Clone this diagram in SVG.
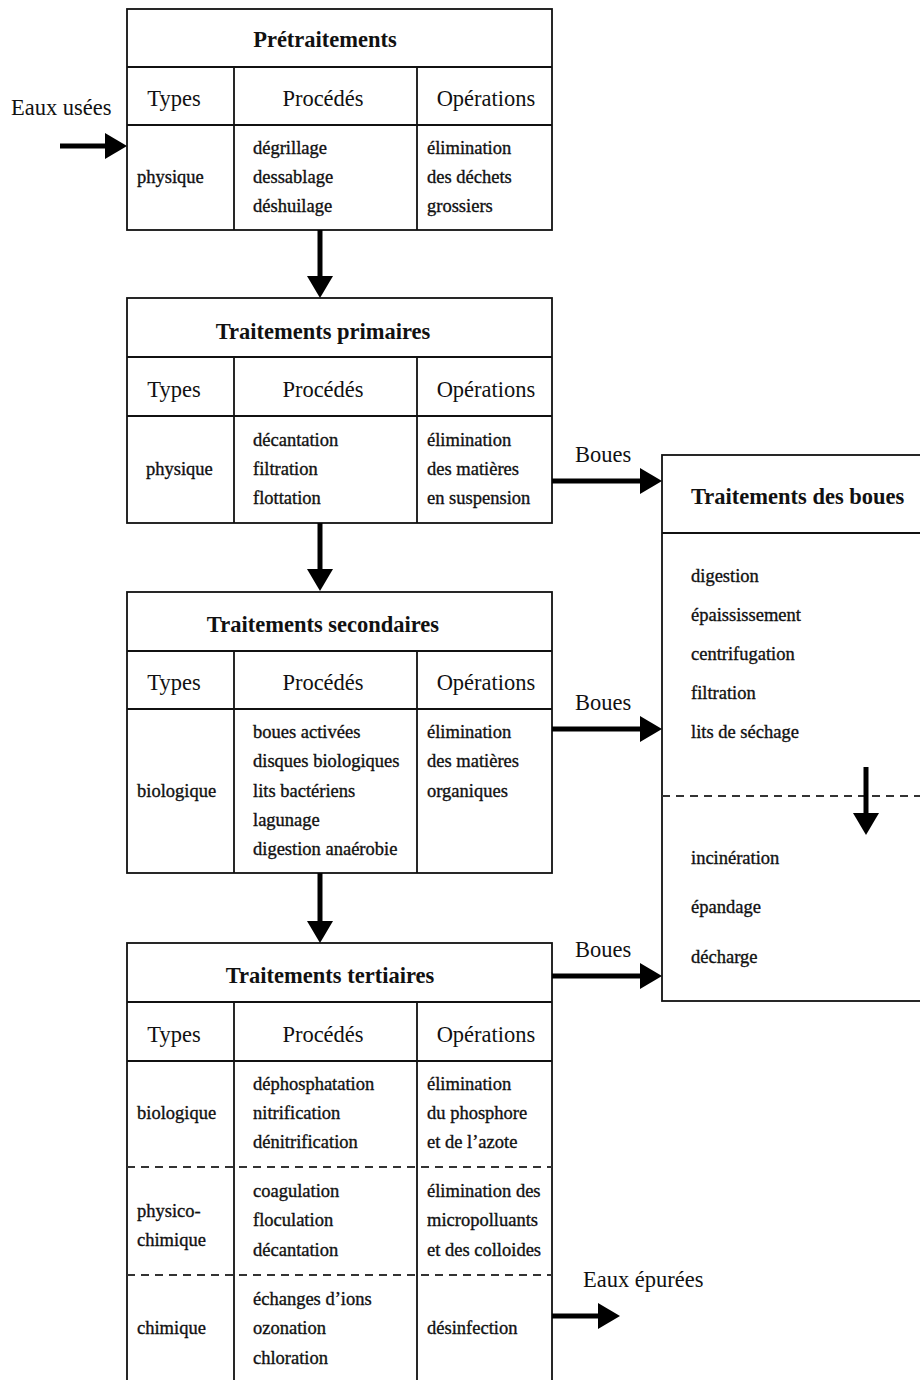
<svg xmlns="http://www.w3.org/2000/svg" width="920" height="1380" viewBox="0 0 920 1380">
<defs>
<style>
.box{fill:#fff;stroke:#111;stroke-width:1.8}
.ln{stroke:#111;stroke-width:1.8;fill:none}
.dash{stroke:#333;stroke-width:1.8;stroke-dasharray:8 6;fill:none}
.arr{stroke:#000;stroke-width:5;fill:none}
.t{font-family:"Liberation Serif","Times New Roman",serif;font-weight:bold;font-size:22.5px;fill:#111;text-anchor:middle}
.h{font-family:"Liberation Serif","Times New Roman",serif;font-size:22.5px;fill:#111;text-anchor:middle}
.b{font-family:"Liberation Serif","Times New Roman",serif;font-size:18.5px;fill:#111;stroke:#111;stroke-width:0.35}
.l{font-family:"Liberation Serif","Times New Roman",serif;font-size:22.5px;fill:#111}
</style>
<marker id="ah" markerWidth="22" markerHeight="26" refX="12" refY="13" orient="auto" markerUnits="userSpaceOnUse">
<path d="M0,0 L22,13 L0,26 z" fill="#000"/>
</marker>
</defs>
<rect width="920" height="1380" fill="#fff"/>

<g id="pretraitements">
<rect class="box" x="127" y="9" width="425" height="221"/>
<path class="ln" d="M127,67 H552 M127,125 H552 M234,67 V230 M417,67 V230"/>
<text class="t" x="325" y="47">Prétraitements</text>
<text class="h" x="174" y="106">Types</text>
<text class="h" x="323" y="106">Procédés</text>
<text class="h" x="486" y="106">Opérations</text>
<text class="b" x="137" y="183">physique</text>
<text class="b" x="253" y="154">dégrillage</text>
<text class="b" x="253" y="183">dessablage</text>
<text class="b" x="253" y="212">déshuilage</text>
<text class="b" x="427" y="154">élimination</text>
<text class="b" x="427" y="183">des déchets</text>
<text class="b" x="427" y="212">grossiers</text>
</g>

<g id="primaires">
<rect class="box" x="127" y="298" width="425" height="225"/>
<path class="ln" d="M127,357 H552 M127,416 H552 M234,357 V523 M417,357 V523"/>
<text class="t" x="323" y="339">Traitements primaires</text>
<text class="h" x="174" y="397">Types</text>
<text class="h" x="323" y="397">Procédés</text>
<text class="h" x="486" y="397">Opérations</text>
<text class="b" x="146" y="475">physique</text>
<text class="b" x="253" y="446">décantation</text>
<text class="b" x="253" y="475">filtration</text>
<text class="b" x="253" y="504">flottation</text>
<text class="b" x="427" y="446">élimination</text>
<text class="b" x="427" y="475">des matières</text>
<text class="b" x="427" y="504">en suspension</text>
</g>

<g id="secondaires">
<rect class="box" x="127" y="592" width="425" height="281"/>
<path class="ln" d="M127,651 H552 M127,709 H552 M234,651 V873 M417,651 V873"/>
<text class="t" x="323" y="632">Traitements secondaires</text>
<text class="h" x="174" y="690">Types</text>
<text class="h" x="323" y="690">Procédés</text>
<text class="h" x="486" y="690">Opérations</text>
<text class="b" x="137" y="797">biologique</text>
<text class="b" x="253" y="738">boues activées</text>
<text class="b" x="253" y="767">disques biologiques</text>
<text class="b" x="253" y="797">lits bactériens</text>
<text class="b" x="253" y="826">lagunage</text>
<text class="b" x="253" y="855">digestion anaérobie</text>
<text class="b" x="427" y="738">élimination</text>
<text class="b" x="427" y="767">des matières</text>
<text class="b" x="427" y="797">organiques</text>
</g>

<g id="tertiaires">
<rect class="box" x="127" y="943" width="425" height="450"/>
<path class="ln" d="M127,1002 H552 M127,1061 H552 M234,1002 V1393 M417,1002 V1393"/>
<path class="dash" d="M127,1167 H552 M127,1275 H552"/>
<text class="t" x="330" y="983">Traitements tertiaires</text>
<text class="h" x="174" y="1042">Types</text>
<text class="h" x="323" y="1042">Procédés</text>
<text class="h" x="486" y="1042">Opérations</text>
<text class="b" x="137" y="1119">biologique</text>
<text class="b" x="253" y="1090">déphosphatation</text>
<text class="b" x="253" y="1119">nitrification</text>
<text class="b" x="253" y="1148">dénitrification</text>
<text class="b" x="427" y="1090">élimination</text>
<text class="b" x="427" y="1119">du phosphore</text>
<text class="b" x="427" y="1148">et de l’azote</text>
<text class="b" x="137" y="1217">physico-</text>
<text class="b" x="137" y="1246">chimique</text>
<text class="b" x="253" y="1197">coagulation</text>
<text class="b" x="253" y="1226">floculation</text>
<text class="b" x="253" y="1256">décantation</text>
<text class="b" x="427" y="1197">élimination des</text>
<text class="b" x="427" y="1226">micropolluants</text>
<text class="b" x="427" y="1256">et des colloides</text>
<text class="b" x="137" y="1334">chimique</text>
<text class="b" x="253" y="1305">échanges d’ions</text>
<text class="b" x="253" y="1334">ozonation</text>
<text class="b" x="253" y="1364">chloration</text>
<text class="b" x="427" y="1334">désinfection</text>
</g>

<g id="boues">
<rect class="box" x="662" y="455" width="270" height="546"/>
<path class="ln" d="M662,533 H932"/>
<path class="dash" d="M662,796 H920"/>
<text class="t" x="691" y="504" style="text-anchor:start">Traitements des boues</text>
<text class="b" x="691" y="582">digestion</text>
<text class="b" x="691" y="621">épaississement</text>
<text class="b" x="691" y="660">centrifugation</text>
<text class="b" x="691" y="699">filtration</text>
<text class="b" x="691" y="738">lits de séchage</text>
<text class="b" x="691" y="864">incinération</text>
<text class="b" x="691" y="913">épandage</text>
<text class="b" x="691" y="963">décharge</text>
</g>

<g id="connectors">
<text class="l" x="11" y="115">Eaux usées</text>
<line class="arr" x1="60" y1="146" x2="117" y2="146" marker-end="url(#ah)"/>
<line class="arr" x1="320" y1="230" x2="320" y2="288" marker-end="url(#ah)"/>
<line class="arr" x1="320" y1="523" x2="320" y2="581" marker-end="url(#ah)"/>
<line class="arr" x1="320" y1="873" x2="320" y2="933" marker-end="url(#ah)"/>
<text class="l" x="575" y="462">Boues</text>
<line class="arr" x1="552" y1="481" x2="652" y2="481" marker-end="url(#ah)"/>
<text class="l" x="575" y="710">Boues</text>
<line class="arr" x1="552" y1="729" x2="652" y2="729" marker-end="url(#ah)"/>
<text class="l" x="575" y="957">Boues</text>
<line class="arr" x1="552" y1="976" x2="652" y2="976" marker-end="url(#ah)"/>
<line class="arr" x1="866" y1="767" x2="866" y2="825" marker-end="url(#ah)"/>
<text class="l" x="583" y="1287">Eaux épurées</text>
<line class="arr" x1="552" y1="1316" x2="610" y2="1316" marker-end="url(#ah)"/>
</g>
</svg>
